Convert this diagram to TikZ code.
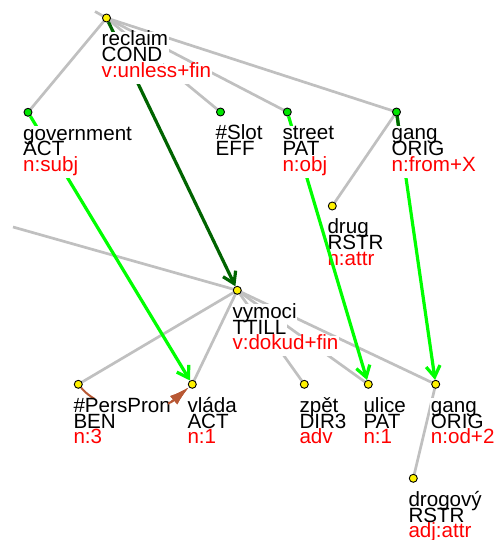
\documentclass[tikz,border=0pt]{standalone}
\usepackage{fontspec}
\setmainfont{Liberation Sans}
\usetikzlibrary{arrows.meta}
\pgfdeclarelayer{edges}
\pgfdeclarelayer{lowbox}
\pgfdeclarelayer{lowtext}
\pgfdeclarelayer{arrowlayer}
\pgfdeclarelayer{topbox}
\pgfdeclarelayer{toptext}
\pgfdeclarelayer{headlayer}
\pgfsetlayers{edges,lowbox,lowtext,arrowlayer,topbox,toptext,headlayer,main}

\definecolor{edgegray}{RGB}{192,192,192}
\definecolor{lgreen}{RGB}{0,255,0}
\definecolor{ngreen}{RGB}{0,230,0}
\definecolor{dgreen}{RGB}{0,100,0}
\definecolor{corefbrown}{RGB}{184,88,52}
\newcommand\lblfont{\fontsize{20.6}{16}\selectfont}

\tikzset{
  tnode/.style={circle, draw=black, line width=0.9pt, minimum size=8pt, inner sep=0pt},
  ynode/.style={tnode, fill=yellow},
  gnode/.style={tnode, fill=ngreen},
  edge/.style={draw=edgegray, line width=2.7pt},
  alarrow/.style={draw=lgreen, line width=3.2pt, -{Straight Barb[length=11pt,width=14pt]}},
  dalarrow/.style={alarrow, draw=dgreen},
  stubline/.style={draw=dgreen, line width=3.2pt},
  coref/.style={draw=corefbrown, line width=2pt, -{Latex[length=20pt,width=11pt]}},
  lbox/.style={fill=white, inner xsep=0.5pt, inner ysep=0pt, text height=14pt, text depth=6pt, anchor=base west, font=\lblfont},
  ltxt/.style={inner xsep=0.5pt, inner ysep=0pt, anchor=base west, font=\lblfont},
}

% #1 node, #2 suffix, #3 layer prefix, #4 dy, #5 colour, #6 text
\newcommand\tline[6]{%
  \begin{pgfonlayer}{#3box}\node[lbox] (#1-#2-bg) at ([shift={(-5.5,#4)}]#1.center) {\phantom{#6}};\end{pgfonlayer}
  \begin{pgfonlayer}{#3text}\node[ltxt, text=#5] (#1-#2) at ([shift={(-5.5,#4)}]#1.center) {#6};\end{pgfonlayer}}
% #1 node, #2 layer prefix, #3 line 1, #4 line 2, #5 line 3
\newcommand\tlabel[5]{%
  \tline{#1}{a}{#2}{27.8}{black}{#3}%
  \tline{#1}{b}{#2}{43.7}{black}{#4}%
  \tline{#1}{c}{#2}{59.6}{red}{#5}}

\begin{document}
\begin{tikzpicture}[x=1pt,y=-1pt]
\useasboundingbox (0,0) rectangle (497,540);

% nodes
\node[ynode] (reclaim) at (106.5,18) {};
\node[gnode] (government) at (28,112.3) {};
\node[gnode] (slot) at (220.5,112) {};
\node[gnode] (street) at (287.3,112) {};
\node[gnode] (gangE) at (396.5,112) {};
\node[ynode] (drug) at (332.3,206) {};
\node[ynode] (vymoci) at (237.3,290.3) {};
\node[ynode] (perspron) at (78.3,384.3) {};
\node[ynode] (vlada) at (192.3,384.3) {};
\node[ynode] (zpet) at (304.3,384.3) {};
\node[ynode] (ulice) at (368.3,384.3) {};
\node[ynode] (gangC) at (435.7,384.3) {};
\node[ynode] (drogovy) at (413.3,478.3) {};

\coordinate (topstub) at (95,11.5);
\coordinate (leftstub) at (13,227);
\coordinate (gangstub) at (398.8,128);

% tree edges
\begin{pgfonlayer}{edges}
\draw[edge] (topstub) -- (reclaim.center);
\draw[edge] (reclaim.center) -- (government.center);
\draw[edge] (reclaim.center) -- (slot.center);
\draw[edge] (reclaim.center) -- (street.center);
\draw[edge] (reclaim.center) -- (gangE.center);
\draw[edge] (gangE.center) -- (drug.center);
\draw[edge] (leftstub) -- (vymoci.center);
\draw[edge] (vymoci.center) -- (perspron.center);
\draw[edge] (vymoci.center) -- (vlada.center);
\draw[edge] (vymoci.center) -- (zpet.center);
\draw[edge] (vymoci.center) -- (ulice.center);
\draw[edge] (vymoci.center) -- (gangC.center);
\draw[edge] (gangC.center) -- (drogovy.center);
\end{pgfonlayer}

% alignment and coreference arrows
\begin{pgfonlayer}{arrowlayer}
\draw[alarrow] (government) -- (vlada);
\draw[dalarrow] (reclaim) -- (vymoci);
\draw[alarrow] (street) -- (ulice);
\draw[alarrow] (gangE) -- (gangC);
\draw[stubline] (gangE.center) -- (gangstub);
\draw[coref] (perspron) .. controls +(25,30) and +(-35,30) .. (vlada);
\end{pgfonlayer}
% the coreference arrowhead lies above the labels
\begin{pgfonlayer}{headlayer}
\begin{scope}
\clip (168,376) rectangle (198,410);
\draw[coref] (perspron) .. controls +(25,30) and +(-35,30) .. (vlada);
\end{scope}
\end{pgfonlayer}

% labels
\tlabel{reclaim}{top}{reclaim}{COND}{v:unless+fin}
\tlabel{government}{top}{government}{ACT}{n:subj}
\tline{slot}{a}{top}{27.8}{black}{\#Slot}
\tline{slot}{b}{top}{43.7}{black}{EFF}
\tlabel{street}{top}{street}{PAT}{n:obj}
\tlabel{gangE}{top}{gang}{ORIG}{n:from+X}
\tlabel{drug}{low}{drug}{RSTR}{n:attr}
\tlabel{vymoci}{top}{vymoci}{TTILL}{v:dokud+fin}
\tlabel{perspron}{top}{\#PersPron}{BEN}{n:3}
\tlabel{vlada}{top}{vláda}{ACT}{n:1}
\tlabel{zpet}{top}{zpět}{DIR3}{adv}
\tlabel{ulice}{top}{ulice}{PAT}{n:1}
\tlabel{gangC}{top}{gang}{ORIG}{n:od+2}
\tlabel{drogovy}{top}{drogový}{RSTR}{adj:attr}
\end{tikzpicture}
\end{document}
